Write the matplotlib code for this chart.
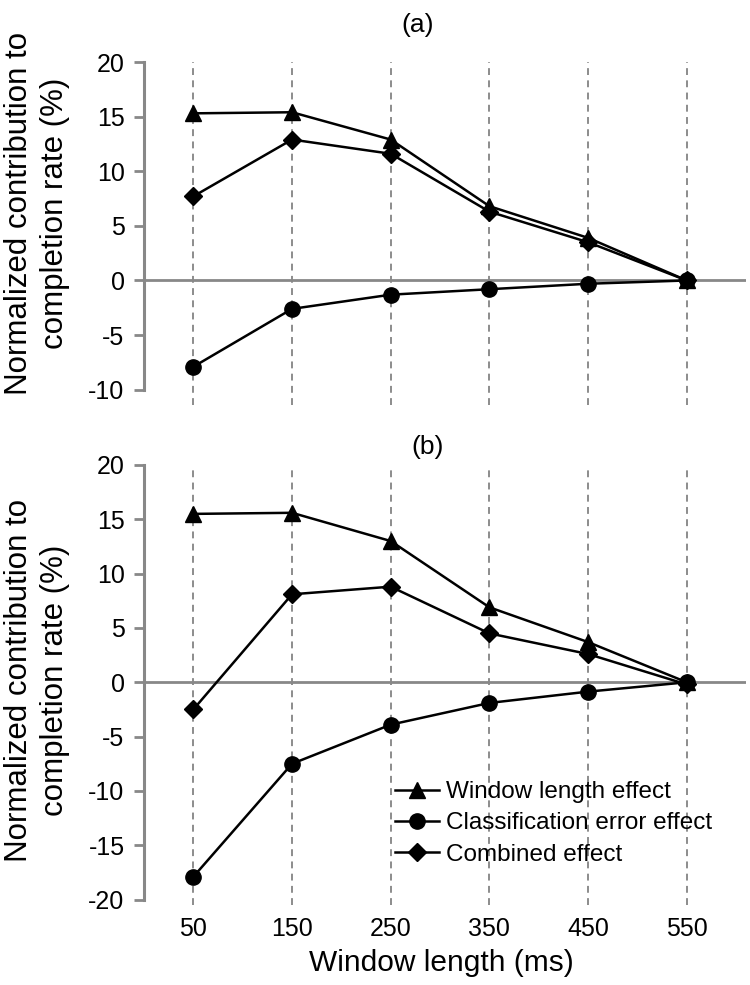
import matplotlib
matplotlib.use("Agg")
import matplotlib.pyplot as plt

plt.rcParams['font.family'] = ['Liberation Sans', 'DejaVu Sans']

window_ms = [50, 150, 250, 350, 450, 550]
tick_labels = ['50', '150', '250', '350', '450', '550']

# Panel (a)
a_window = [15.3, 15.4, 12.9, 6.8, 3.9, 0.0]
a_class = [-7.9, -2.6, -1.3, -0.8, -0.3, 0.0]
a_comb = [7.7, 12.9, 11.6, 6.3, 3.5, 0.0]

# Panel (b)
b_window = [15.5, 15.6, 13.0, 6.9, 3.7, 0.0]
b_class = [-17.9, -7.5, -3.9, -1.9, -0.86, 0.0]
b_comb = [-2.5, 8.1, 8.8, 4.5, 2.6, -0.2]

series_names = ['Window length effect', 'Classification error effect', 'Combined effect']

W, H = 750, 985
fig = plt.figure(figsize=(W / 100, H / 100), dpi=100)

def px_axes(left, top, right, bottom):
    return fig.add_axes([left / W, 1 - bottom / H, (right - left) / W, (bottom - top) / H])

ax_a = px_axes(144, 62, 746, 405)
ax_b = px_axes(144, 465, 746, 905)

gray = '#888888'

def style(ax, ylo, yhi, ymin_lim, yticks, data, show_x):
    ax.set_xlim(0, 610)
    ax.set_ylim(ymin_lim, yhi)
    for s in ['top', 'right', 'bottom']:
        ax.spines[s].set_visible(False)
    ax.spines['left'].set_color(gray)
    ax.spines['left'].set_linewidth(2.2)
    ax.spines['left'].set_bounds(ylo, yhi)
    ax.set_yticks(yticks)
    ax.set_yticklabels([str(t) for t in yticks])
    ax.tick_params(axis='y', direction='out', length=7, width=2, color=gray,
                   labelsize=18, pad=7)
    ax.set_xticks(window_ms)
    if show_x:
        ax.set_xticklabels(tick_labels)
        ax.tick_params(axis='x', length=0, labelsize=18, pad=9)
    else:
        ax.set_xticklabels([])
        ax.tick_params(axis='x', length=0)
    for xv in window_ms:
        ax.plot([xv, xv], [ymin_lim, yhi], color='#6e6e6e', lw=1.1,
                dashes=(4.5, 3.5), zorder=1, clip_on=False)
    ax.plot([0, 610], [0, 0], color=gray, lw=2.0, zorder=2, solid_capstyle='butt')
    w, c, cb = data
    ax.plot(window_ms, w, color='black', lw=1.8, marker='^', ms=11, zorder=4,
            label=series_names[0])
    ax.plot(window_ms, c, color='black', lw=1.8, marker='o', ms=11, zorder=4,
            label=series_names[1])
    ax.plot(window_ms, cb, color='black', lw=1.8, marker='D', ms=9, zorder=4,
            label=series_names[2])

style(ax_a, -10, 20, -11.4, [-10, -5, 0, 5, 10, 15, 20],
      (a_window, a_class, a_comb), False)
style(ax_b, -20, 20, -20.5, [-20, -15, -10, -5, 0, 5, 10, 15, 20],
      (b_window, b_class, b_comb), True)

ylabel = 'Normalized contribution to\ncompletion rate (%)'
fig.text(37 / W, 1 - 213 / H, ylabel, rotation=90, ha='center', va='center',
         fontsize=22.5, multialignment='center', linespacing=1.3)
fig.text(37 / W, 1 - 680 / H, ylabel, rotation=90, ha='center', va='center',
         fontsize=22.5, multialignment='center', linespacing=1.3)

fig.text(418 / W, 1 - 25 / H, '(a)', ha='center', va='center', fontsize=19)
fig.text(428 / W, 1 - 447 / H, '(b)', ha='center', va='center', fontsize=19)

fig.text(441 / W, 1 - 963 / H, 'Window length (ms)', ha='center', va='center',
         fontsize=21.5)

leg = ax_b.legend(loc='upper left', bbox_to_anchor=(395 / W, 1 - 781 / H),
                  bbox_transform=fig.transFigure, frameon=False, fontsize=17.5,
                  handlelength=1.8, handletextpad=0.3, labelspacing=0.38,
                  borderpad=0, borderaxespad=0)

fig.savefig('out.png', dpi=100)
